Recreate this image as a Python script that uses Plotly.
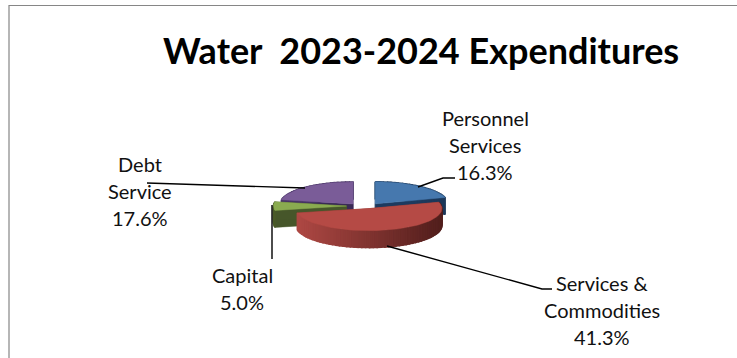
import math
import plotly.graph_objects as go

# Chart content
title_text = "Water  2023-2024 Expenditures"
categories = ["Personnel Services", "Services & Commodities", "Capital", "Debt Service"]
shares = [16.3, 41.3, 5.0, 17.6]
label_rows = [["Personnel", "Services"], ["Services &", "Commodities"], ["Capital"], ["Debt", "Service"]]

# Styling of each wedge: top face, rim gradient start/end, cut face
top_colors = ["#4678ae", "#b54a45", "#8aab50", "#7a5c98"]
rim_from = ["#2b5078", "#bd4f4a", "#4a5a28", "#4a3668"]
rim_to = ["#1b3556", "#481a18", "#3f4d22", "#3a2a55"]
cut_colors = ["#1d3a5f", "#8c3632", "#46562a", "#3a2a55"]

# Projection of the flattened pie, in page pixels
CX, CY, RX, RY, DEPTH = 364.5, 206.0, 73.0, 22.0, 17.0
EXPLODE, SQUASH = 18.0, 0.15

label_anchor = [(485, 118), (602, 283), (242, 275), (140, 164)]
ROW_STEP = 27
LABEL_SIZE = 20
leaders = [
    [(418, 187), (443, 178), (455, 178)],
    [(387, 246), (542, 289), (552, 289)],
    [(272, 205), (272, 259)],
    [(147, 183), (305, 188)],
]


def mix(c0, c1, t):
    a = [int(c0[i:i + 2], 16) for i in (1, 3, 5)]
    b = [int(c1[i:i + 2], 16) for i in (1, 3, 5)]
    return "rgb(%d,%d,%d)" % tuple(round(p + (q - p) * t) for p, q in zip(a, b))


def polygon(xs, ys, color, edge=0.5):
    return go.Scatter(x=list(xs) + [xs[0]], y=list(ys) + [ys[0]], mode="lines", fill="toself",
                      fillcolor=color, line=dict(color=color, width=edge),
                      hoverinfo="skip", showlegend=False)


# Wedge sweeps from the values, clockwise from twelve o'clock
total = sum(shares)
wedges = []
angle = 90.0
for i, share in enumerate(shares):
    sweep = share / total * 360.0
    wedges.append((i, angle, angle - sweep))
    angle -= sweep


def wedge_traces(i, a0, a1):
    mid = math.radians((a0 + a1) / 2)
    ox = CX + EXPLODE * math.cos(mid)
    oy = CY - EXPLODE * SQUASH * math.sin(mid)
    steps = max(6, int(abs(a1 - a0) / 3))
    rim_x, rim_y = [], []
    for s in range(steps + 1):
        t = math.radians(a0 + (a1 - a0) * s / steps)
        rim_x.append(ox + RX * math.cos(t))
        rim_y.append(oy - RY * math.sin(t))
    out = []
    # radial cut faces
    for rx_, ry_ in ((rim_x[0], rim_y[0]), (rim_x[-1], rim_y[-1])):
        out.append(polygon([ox, rx_, rx_, ox], [oy, ry_, ry_ + DEPTH, oy + DEPTH], cut_colors[i]))
    # curved rim, shaded left to right; thick edges close the seams between strips
    left, right = CX - RX - EXPLODE, CX + RX + EXPLODE
    for s in range(steps):
        xa, xb = rim_x[s], rim_x[s + 1]
        ya, yb = rim_y[s], rim_y[s + 1]
        t = max(0.0, min(1.0, ((xa + xb) / 2 - left) / (right - left)))
        out.append(polygon([xa, xb, xb, xa], [ya, yb, yb + DEPTH, ya + DEPTH],
                           mix(rim_from[i], rim_to[i], t), edge=1.5))
    # top face
    out.append(polygon([ox] + rim_x, [oy] + rim_y, top_colors[i]))
    return out


fig = go.Figure()
# Painted back to front so nearer wedges overlap the others
for idx in (3, 0, 2, 1):
    for trace in wedge_traces(*wedges[idx]):
        fig.add_trace(trace)

# Leader lines
for path in leaders:
    fig.add_trace(go.Scatter(x=[p[0] for p in path], y=[p[1] for p in path], mode="lines",
                             line=dict(color="#000000", width=1.4), hoverinfo="skip", showlegend=False))

# Chart frame: top and left edges
fig.add_trace(go.Scatter(x=[9, 9, 737], y=[358, 5.5, 5.5], mode="lines",
                         line=dict(color="#868686", width=1.2), hoverinfo="skip", showlegend=False))

annotations = [dict(x=421, y=50, text="<b>%s</b>" % title_text.replace("  ", "&nbsp; "), showarrow=False,
                    xref="x", yref="y", font=dict(family="Lato", size=36, color="#000000"))]
for rows, share, (ax, ay) in zip(label_rows, shares, label_anchor):
    for r, row in enumerate(rows + ["%.1f%%" % share]):
        annotations.append(dict(x=ax, y=ay + r * ROW_STEP, text=row, showarrow=False, xref="x", yref="y",
                                font=dict(family="Lato", size=LABEL_SIZE, color="#111111")))

fig.update_layout(
    width=737, height=358, margin=dict(l=0, r=0, t=0, b=0),
    paper_bgcolor="#ffffff", plot_bgcolor="#ffffff", annotations=annotations,
    xaxis=dict(range=[0, 737], visible=False, fixedrange=True),
    yaxis=dict(range=[358, 0], visible=False, fixedrange=True),
    showlegend=False,
)
fig.write_html("out.html", config=dict(displayModeBar=False))
